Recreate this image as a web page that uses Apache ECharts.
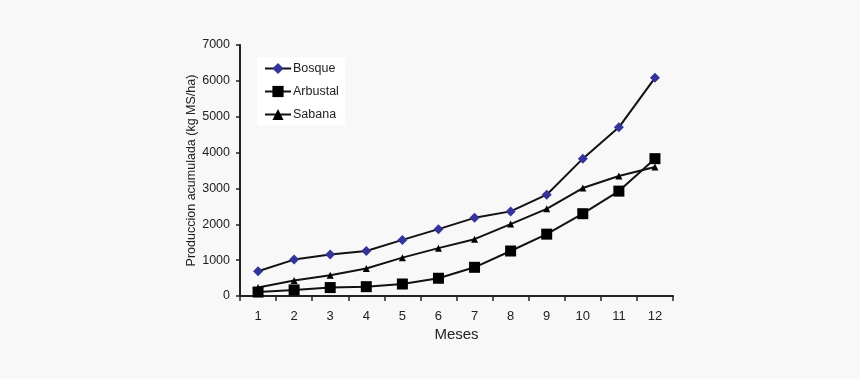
<!DOCTYPE html>
<html><head><meta charset="utf-8">
<script src="https://cdn.jsdelivr.net/npm/echarts@6/dist/echarts.min.js"></script>
<style>html,body{margin:0;padding:0;background:#f8f8f8;}#c{width:860px;height:379px;}</style>
</head><body><div id="c"></div>
<script>
const categories = ['1','2','3','4','5','6','7','8','9','10','11','12'];
const bosque   = [690, 1015, 1155, 1255, 1565, 1865, 2180, 2360, 2825, 3830, 4705, 6085];
const arbustal = [110, 170, 235, 260, 335, 495, 800, 1255, 1725, 2295, 2925, 3830];
const sabana   = [235, 430, 580, 765, 1070, 1335, 1585, 2005, 2430, 3010, 3345, 3600];
const yTicks = {min: 0, max: 7000, interval: 1000};

const font = 'Liberation Sans, Arial, sans-serif';
const chart = echarts.init(document.getElementById('c'));
chart.setOption({
  backgroundColor: '#f8f8f8',
  animation: false,
  grid: {left: 240, right: 187, top: 45, bottom: 83},
  legend: {
    orient: 'vertical', left: 257, top: 57,
    backgroundColor: '#ffffff', padding: [5, 6, 4, 7],
    itemGap: 10, itemWidth: 26, itemHeight: 14,
    textStyle: {fontFamily: font, fontSize: 12.5, color: '#222', padding: [0, 0, 0, -3]},
    data: ['Bosque', 'Arbustal', 'Sabana']
  },
  xAxis: {
    type: 'category', data: categories, boundaryGap: true,
    name: 'Meses', nameLocation: 'middle', nameGap: 31, nameMoveOverlap: false,
    nameTextStyle: {fontFamily: font, fontSize: 15, color: '#222'},
    axisLine: {lineStyle: {color: '#222', width: 2}},
    axisTick: {show: true, length: 5, alignWithLabel: false, lineStyle: {color: '#222', width: 1.5}},
    axisLabel: {fontFamily: font, fontSize: 13, color: '#222', margin: 14}
  },
  yAxis: {
    type: 'value', min: yTicks.min, max: yTicks.max, interval: yTicks.interval,
    name: 'Produccion acumulada (kg MS/ha)', nameLocation: 'middle', nameGap: 42, nameMoveOverlap: false,
    nameTextStyle: {fontFamily: font, fontSize: 12.5, color: '#222'},
    axisLine: {show: true, lineStyle: {color: '#222', width: 2}},
    axisTick: {show: true, length: 4, lineStyle: {color: '#222', width: 1.5}},
    splitLine: {show: false},
    axisLabel: {fontFamily: font, fontSize: 12.5, color: '#222', margin: 10,
      formatter: v => String(v)}
  },
  series: [
    {name: 'Bosque', type: 'line', data: bosque, symbol: 'diamond', symbolSize: 10,
     lineStyle: {color: '#111', width: 2}, itemStyle: {color: '#333399'}},
    {name: 'Arbustal', type: 'line', data: arbustal, symbol: 'rect', symbolSize: 11,
     lineStyle: {color: '#111', width: 2}, itemStyle: {color: '#000'}},
    {name: 'Sabana', type: 'line', data: sabana, symbol: 'triangle', symbolSize: 7,
     lineStyle: {color: '#111', width: 2}, itemStyle: {color: '#000'}}
  ]
});
</script></body></html>
